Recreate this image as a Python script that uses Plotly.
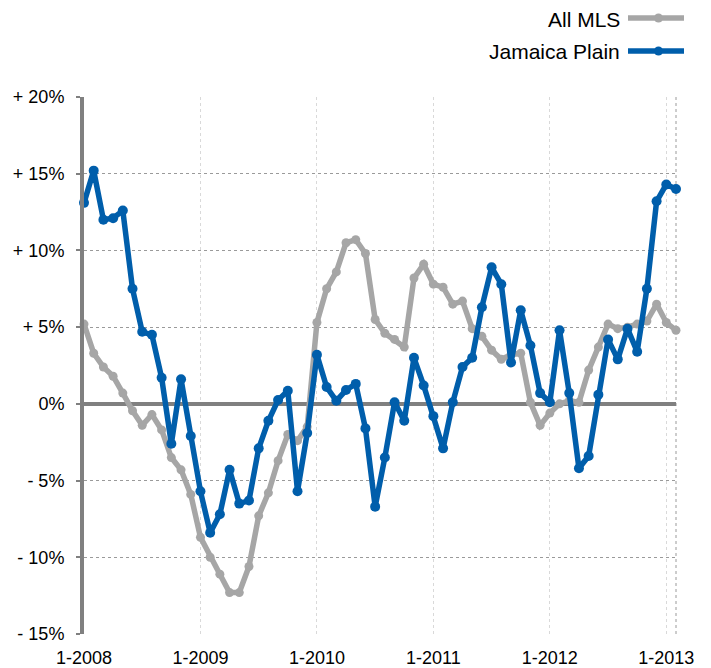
import plotly.graph_objects as go

# Year-over-year change (%), monthly, 1-2008 .. 2-2013
all_mls = [
    5.2, 3.3, 2.4, 1.8, 0.7, -0.45, -1.4, -0.7, -1.7, -3.5, -4.3, -5.9,
    -8.7, -10.0, -11.1, -12.3, -12.3, -10.6, -7.3, -5.8, -3.7, -2.0, -2.4, -1.5,
    5.3, 7.5, 8.6, 10.5, 10.7, 9.8, 5.5, 4.6, 4.2, 3.7, 8.2, 9.1,
    7.8, 7.6, 6.5, 6.7, 4.9, 4.4, 3.5, 2.9, 3.2, 3.3, 0.1, -1.4,
    -0.6, 0.0, 0.2, 0.1, 2.2, 3.7, 5.2, 4.9, 5.0, 5.2, 5.4, 6.5,
    5.3, 4.8,
]
jamaica_plain = [
    13.1, 15.2, 12.0, 12.1, 12.6, 7.5, 4.7, 4.5, 1.7, -2.6, 1.6, -2.1,
    -5.7, -8.4, -7.2, -4.3, -6.5, -6.3, -2.9, -1.1, 0.25, 0.85, -5.7, -1.9,
    3.2, 1.1, 0.2, 0.9, 1.3, -1.6, -6.7, -3.5, 0.1, -1.1, 3.0, 1.2,
    -0.8, -2.9, 0.1, 2.4, 3.0, 6.3, 8.9, 7.8, 2.7, 6.1, 3.8, 0.7,
    0.1, 4.8, 0.7, -4.2, -3.4, 0.6, 4.2, 2.9, 4.9, 3.4, 7.5, 13.2,
    14.3, 14.0,
]
x_tick_labels = ["1-2008", "1-2009", "1-2010", "1-2011", "1-2012", "1-2013"]
y_tick_values = [-15, -10, -5, 0, 5, 10, 15, 20]
y_tick_labels = ["- 15%", "- 10%", "- 5%", "0%", "+ 5%", "+ 10%", "+ 15%", "+ 20%"]

months = list(range(len(all_mls)))

GRAY = "#A6A6A6"
BLUE = "#005EAB"
AXIS = "#808080"
FONT = "Liberation Sans, Arial, Helvetica, sans-serif"

fig = go.Figure()

fig.add_trace(go.Scatter(
    x=months, y=all_mls, name="All MLS", mode="lines+markers",
    line=dict(color=GRAY, width=5.5), marker=dict(size=9, color=GRAY),
    cliponaxis=False,
))
fig.add_trace(go.Scatter(
    x=months, y=jamaica_plain, name="Jamaica Plain", mode="lines+markers",
    line=dict(color=BLUE, width=5.5), marker=dict(size=10, color=BLUE),
    cliponaxis=False,
))

# legend drawn by hand: text on the left, line sample on the right
legend_items = [("All MLS", GRAY, 79), ("Jamaica Plain", BLUE, 46)]
for label, color, up in legend_items:
    fig.add_annotation(
        text=label, xref="paper", yref="paper", x=0.909, y=1 + (up - 1) / 537,
        xanchor="right", yanchor="middle", showarrow=False,
        font=dict(size=21, color="black", family=FONT),
    )
    fig.add_shape(
        type="line", xref="paper", yref="paper", xsizemode="pixel", ysizemode="pixel",
        xanchor=1, yanchor=1, x0=-48, x1=8, y0=up, y1=up,
        line=dict(color=color, width=5.5), layer="above",
    )
    fig.add_shape(
        type="circle", xref="paper", yref="paper", xsizemode="pixel", ysizemode="pixel",
        xanchor=1, yanchor=1, x0=-22, x1=-13, y0=up - 4.5, y1=up + 4.5,
        fillcolor=color, line=dict(color=color, width=0), layer="above",
    )

# dotted right border
fig.add_shape(
    type="line", xref="paper", yref="paper", x0=1, x1=1, y0=0, y1=1,
    line=dict(color="#9A9A9A", width=1, dash="dot"), layer="below",
)

# page body has an 8px margin, so the figure is sized to fit the window
fig.update_layout(
    width=703, height=660,
    margin=dict(l=76, r=35, t=89, b=34),
    paper_bgcolor="white", plot_bgcolor="white",
    showlegend=False,
    font=dict(family=FONT, size=18, color="black"),
    xaxis=dict(
        range=[0, 61],
        tickvals=[0, 12, 24, 36, 48, 60], ticktext=x_tick_labels,
        showgrid=True, gridcolor="#D9D9D9", griddash="3px,3px", gridwidth=1,
        zeroline=False, showline=False, ticks="",
        ticklabelstandoff=11, automargin=False,
    ),
    yaxis=dict(
        range=[-15, 20],
        tickvals=y_tick_values, ticktext=y_tick_labels,
        showgrid=True, gridcolor="#9A9A9A", griddash="dot", gridwidth=1,
        zeroline=True, zerolinecolor=AXIS, zerolinewidth=4,
        showline=True, linecolor=AXIS, linewidth=4,
        ticks="outside", ticklen=4, tickwidth=2, tickcolor=AXIS,
        ticklabelstandoff=8, automargin=False,
    ),
)

fig.write_html("out.html")
